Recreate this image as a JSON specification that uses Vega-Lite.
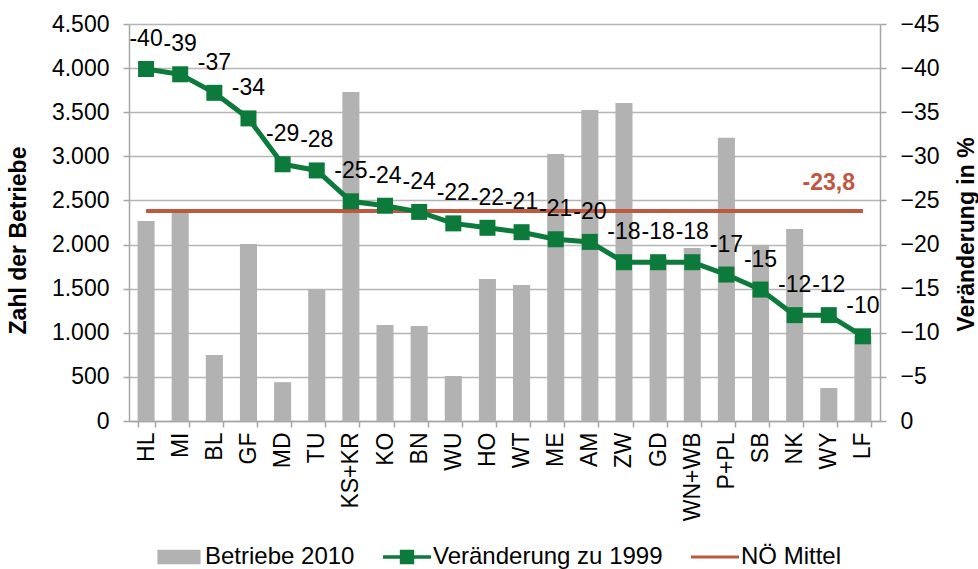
{
  "$schema": "https://vega.github.io/schema/vega-lite/v6.json",
  "width": 751,
  "height": 397,
  "autosize": {"type": "none"},
  "padding": {"left": 129, "top": 24, "right": 98, "bottom": 148},
  "background": "white",
  "config": {
    "font": "Liberation Sans",
    "view": {"stroke": null},
    "axis": {
      "labelFont": "Liberation Sans",
      "titleFont": "Liberation Sans",
      "labelColor": "#000000",
      "titleColor": "#000000",
      "labelFontSize": 23,
      "titleFontSize": 23,
      "titleFontWeight": "bold",
      "domainColor": "#a6a6a6",
      "domainWidth": 1.5,
      "tickColor": "#a6a6a6",
      "tickWidth": 1.5,
      "tickSize": 6,
      "gridColor": "#b5b5b5",
      "gridWidth": 1.5
    }
  },
  "datasets": {
    "main": [
      {"cat": "HL", "betriebe": 2267, "v": -39.9, "label": "-40"},
      {"cat": "MI", "betriebe": 2390, "v": -39.3, "label": "-39"},
      {"cat": "BL", "betriebe": 748, "v": -37.2, "label": "-37"},
      {"cat": "GF", "betriebe": 2005, "v": -34.3, "label": "-34"},
      {"cat": "MD", "betriebe": 440, "v": -29.1, "label": "-29"},
      {"cat": "TU", "betriebe": 1497, "v": -28.4, "label": "-28"},
      {"cat": "KS+KR", "betriebe": 3730, "v": -24.9, "label": "-25"},
      {"cat": "KO", "betriebe": 1088, "v": -24.4, "label": "-24"},
      {"cat": "BN", "betriebe": 1077, "v": -23.7, "label": "-24"},
      {"cat": "WU", "betriebe": 510, "v": -22.4, "label": "-22"},
      {"cat": "HO", "betriebe": 1610, "v": -21.9, "label": "-22"},
      {"cat": "WT", "betriebe": 1542, "v": -21.4, "label": "-21"},
      {"cat": "ME", "betriebe": 3027, "v": -20.6, "label": "-21"},
      {"cat": "AM", "betriebe": 3526, "v": -20.3, "label": "-20"},
      {"cat": "ZW", "betriebe": 3605, "v": -18.0, "label": "-18"},
      {"cat": "GD", "betriebe": 1850, "v": -18.0, "label": "-18"},
      {"cat": "WN+WB", "betriebe": 1960, "v": -18.0, "label": "-18"},
      {"cat": "P+PL", "betriebe": 3210, "v": -16.6, "label": "-17"},
      {"cat": "SB", "betriebe": 1995, "v": -14.9, "label": "-15"},
      {"cat": "NK", "betriebe": 2177, "v": -12.0, "label": "-12"},
      {"cat": "WY", "betriebe": 374, "v": -12.0, "label": "-12"},
      {"cat": "LF", "betriebe": 960, "v": -9.6, "label": "-10"}
    ],
    "mean": [
      {"from": "HL", "to": "LF", "cat": "WY", "v": -23.8, "label": "-23,8"}
    ],
    "legend": [
      {"s": "Betriebe 2010"},
      {"s": "Veränderung zu 1999"},
      {"s": "NÖ Mittel"}
    ]
  },
  "layer": [
    {
      "data": {"name": "main"},
      "mark": {"type": "bar", "color": "#b2b2b2"},
      "encoding": {
        "x": {
          "field": "cat",
          "type": "nominal",
          "sort": null,
          "scale": {
            "domain": ["HL","MI","BL","GF","MD","TU","KS+KR","KO","BN","WU","HO","WT","ME","AM","ZW","GD","WN+WB","P+PL","SB","NK","WY","LF"],
            "paddingInner": 0.5,
            "paddingOuter": 0.25
          },
          "axis": {
            "title": null,
            "labelAngle": -90,
            "labelAlign": "right",
            "labelBaseline": "middle",
            "labelPadding": 5,
            "tickBand": "extent",
            "grid": false
          }
        },
        "y": {
          "field": "betriebe",
          "type": "quantitative",
          "scale": {"domain": [0, 4500], "nice": false},
          "axis": {
            "orient": "left",
            "values": [0, 500, 1000, 1500, 2000, 2500, 3000, 3500, 4000, 4500],
            "labelExpr": "replace(format(datum.value, ','), ',', '.')",
            "labelPadding": 14,
            "grid": true,
            "title": "Zahl der Betriebe",
            "titleAngle": 270,
            "titleAlign": "center",
            "titleBaseline": "bottom",
            "titleX": -99,
            "titleY": 216
          }
        }
      }
    },
    {
      "layer": [
        {
          "data": {"name": "mean"},
          "mark": {"type": "rule", "color": "#c0573f", "strokeWidth": 4},
          "encoding": {
            "x": {"field": "from", "type": "nominal"},
            "x2": {"field": "to"},
            "y": {
              "field": "v",
              "type": "quantitative",
              "scale": {"domain": [-45, 0], "reverse": true, "nice": false},
              "axis": {
                "orient": "right",
                "values": [-45, -40, -35, -30, -25, -20, -15, -10, -5, 0],
                "labelPadding": 14,
                "grid": false,
                "title": "Veränderung in %",
                "titleAngle": 270,
                "titleAlign": "center",
                "titleBaseline": "top",
                "titleX": 75,
                "titleY": 210
              }
            }
          }
        },
        {
          "data": {"name": "mean"},
          "mark": {"type": "text", "color": "#c0573f", "fontWeight": "bold", "fontSize": 23, "baseline": "middle", "align": "center", "dy": -28},
          "encoding": {
            "x": {"field": "cat", "type": "nominal"},
            "y": {"field": "v", "type": "quantitative"},
            "text": {"field": "label"}
          }
        },
        {
          "data": {"name": "main"},
          "mark": {"type": "line", "color": "#0b7a3b", "strokeWidth": 5},
          "encoding": {
            "x": {"field": "cat", "type": "nominal", "sort": null},
            "y": {"field": "v", "type": "quantitative"}
          }
        },
        {
          "data": {"name": "main"},
          "mark": {"type": "point", "shape": "square", "filled": true, "opacity": 1, "color": "#0b7a3b", "size": 256},
          "encoding": {
            "x": {"field": "cat", "type": "nominal", "sort": null},
            "y": {"field": "v", "type": "quantitative"}
          }
        },
        {
          "data": {"name": "main"},
          "mark": {"type": "text", "color": "#000000", "fontSize": 23, "baseline": "middle", "align": "center", "dy": -30},
          "encoding": {
            "x": {"field": "cat", "type": "nominal", "sort": null},
            "y": {"field": "v", "type": "quantitative"},
            "text": {"field": "label"}
          }
        }
      ]
    },
    {
      "data": {"name": "legend"},
      "mark": {"type": "point", "filled": true, "opacity": 0},
      "encoding": {
        "color": {
          "field": "s",
          "type": "nominal",
          "sort": null,
          "scale": {
            "domain": ["Betriebe 2010", "Veränderung zu 1999", "NÖ Mittel"],
            "range": ["#b2b2b2", "#0b7a3b", "#c0573f"]
          },
          "legend": {
            "orient": "none",
            "legendX": 26,
            "legendY": 509,
            "direction": "horizontal",
            "title": null,
            "symbolOpacity": 1,
            "symbolSize": 2304,
            "symbolStrokeWidth": 0,
            "labelFontSize": 24,
            "labelFont": "Liberation Sans",
            "labelColor": "#000000",
            "labelOffset": 2,
            "labelLimit": 400,
            "columnPadding": 28,
            "encode": {
              "symbols": {"update": {"opacity": {"value": 1}, "fillOpacity": {"value": 1}}}
            }
          }
        },
        "shape": {
          "field": "s",
          "type": "nominal",
          "sort": null,
          "scale": {
            "domain": ["Betriebe 2010", "Veränderung zu 1999", "NÖ Mittel"],
            "range": [
              "M-0.9,-0.3H0.9V0.3H-0.9Z",
              "M-1,-0.07H1V0.07H-1Z M-0.3,-0.3H0.3V0.3H-0.3Z",
              "M-1,-0.06H1V0.06H-1Z"
            ]
          }
        }
      }
    }
  ],
  "resolve": {"scale": {"y": "independent"}}
}
